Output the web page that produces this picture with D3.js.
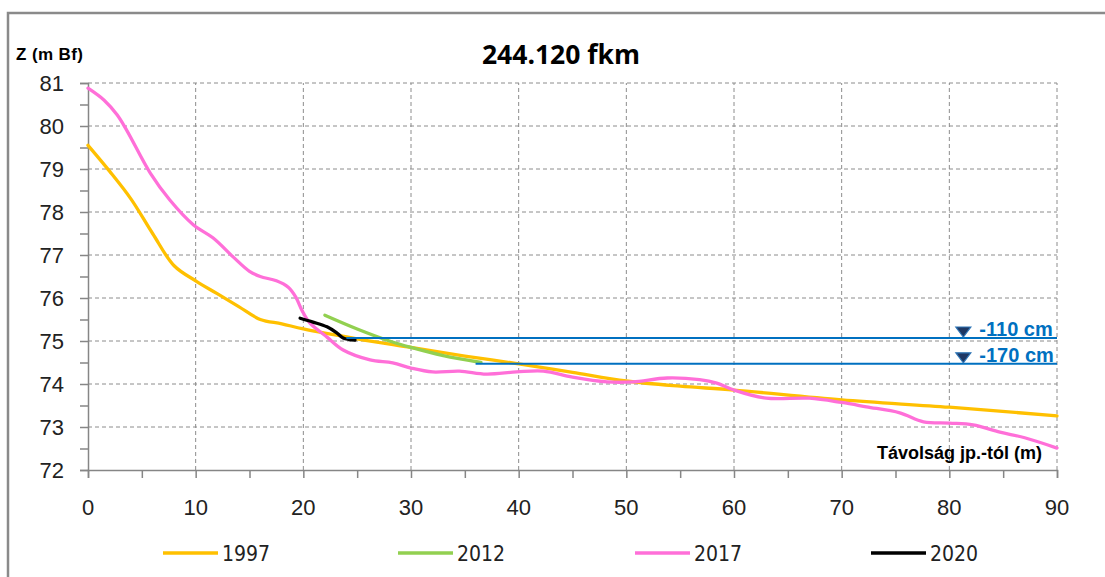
<!DOCTYPE html>
<html>
<head>
<meta charset="utf-8">
<script src="https://cdn.jsdelivr.net/npm/d3@7"></script>
<style>
  html, body { margin: 0; padding: 0; background: #fff; }
  svg { display: block; }
</style>
</head>
<body>
<svg id="chart" width="1105" height="577"></svg>
<script>
// Cross-section profile data: distance from the left bank point (m) vs. elevation (m Bf)
const dist1997 = [0, 2, 4, 6, 8, 10, 12, 14, 16, 18, 20, 25, 30, 35, 40, 45, 50, 55, 60, 70, 80, 90];
const z1997 = [79.55, 78.95, 78.3, 77.5, 76.75, 76.4, 76.1, 75.8, 75.5, 75.4, 75.28, 75.05, 74.85, 74.65, 74.47, 74.27, 74.07, 73.95, 73.86, 73.63, 73.46, 73.26];

const dist2012 = [22, 25, 28, 30, 33, 36.5];
const z2012 = [75.6, 75.28, 75.0, 74.85, 74.66, 74.5];

const dist2017 = [0, 1.5, 2.7, 3.6, 5.8, 7.6, 9.8, 11.6, 13.5, 15, 16, 17.5, 18.6, 19.3, 19.9, 20.6, 22.2, 23.7, 26.2, 28.3, 30, 32, 34.5, 37, 39.8, 42.3, 45, 48.2, 50.6, 53.8, 56.8, 58.4, 60, 63, 67, 70, 72.3, 75.4, 77.6, 80, 82.2, 84.7, 87, 90];
const z2017 = [80.88, 80.6, 80.26, 79.9, 78.9, 78.28, 77.7, 77.4, 76.95, 76.62, 76.5, 76.4, 76.25, 76.02, 75.7, 75.42, 75.09, 74.79, 74.56, 74.49, 74.37, 74.28, 74.3, 74.23, 74.28, 74.3, 74.16, 74.05, 74.05, 74.14, 74.1, 74.02, 73.86, 73.67, 73.67, 73.57, 73.47, 73.33, 73.12, 73.09, 73.05, 72.88, 72.75, 72.51];

const dist2020 = [19.7, 20.9, 22.2, 23.1, 23.7, 24.8];
const z2020 = [75.53, 75.44, 75.33, 75.19, 75.07, 75.02];

// Water levels below reference (horizontal lines)
const levelLabels = ["-110 cm", "-170 cm"];
const levelZ = [75.07, 74.47];
const levelStart = [24, 36];
const levelMarkerX = 81.3;

const seriesNames = ["1997", "2012", "2017", "2020"];
const seriesColors = ["#FFC000", "#92D050", "#FF6FD8", "#000000"];

const xTicks = [0, 10, 20, 30, 40, 50, 60, 70, 80, 90];
const yTicks = [72, 73, 74, 75, 76, 77, 78, 79, 80, 81];

const titleText = "244.120 fkm";
const yTitle = "Z (m Bf)";
const xTitle = "Távolság jp.-tól (m)";

const svg = d3.select("#chart");
const x = d3.scaleLinear().domain([0, 90]).range([88, 1057]);
const y = d3.scaleLinear().domain([72, 81]).range([470, 83]);

const tickFont = "'Liberation Sans', Arial, sans-serif";
const gridColor = "#8c8c8c";

// outer frame
svg.append("rect")
  .attr("x", 8).attr("y", 13).attr("width", 1120).attr("height", 600)
  .attr("fill", "none").attr("stroke", "#8a8a8a").attr("stroke-width", 2.5);

// gridlines
const grid = svg.append("g");
grid.selectAll(".hg").data(yTicks.filter(d => d > 72)).join("line")
  .attr("x1", x(0)).attr("x2", x(90))
  .attr("y1", d => y(d)).attr("y2", d => y(d))
  .attr("stroke", gridColor).attr("stroke-width", 1).attr("stroke-dasharray", "4,3");
grid.selectAll(".vg").data(xTicks.filter(d => d > 0)).join("line")
  .attr("x1", d => x(d)).attr("x2", d => x(d))
  .attr("y1", y(72)).attr("y2", y(81))
  .attr("stroke", gridColor).attr("stroke-width", 1).attr("stroke-dasharray", "4,3");

// axes
const yAxis = d3.axisLeft(y).tickValues(d3.range(72, 81.01, 0.5)).tickSize(8).tickFormat("");
const gy = svg.append("g").attr("transform", `translate(${x(0)},0)`).call(yAxis);
const xAxis = d3.axisBottom(x).tickValues(d3.range(0, 90.01, 5)).tickSize(8).tickFormat("");
const gx = svg.append("g").attr("transform", `translate(0,${y(72)})`).call(xAxis);
[gy, gx].forEach(g => {
  g.selectAll("path, line").attr("stroke", "#868686").attr("stroke-width", 1.5);
});

// tick labels
svg.append("g").selectAll("text").data(yTicks).join("text")
  .attr("x", 64).attr("y", d => y(d) + 8)
  .attr("text-anchor", "end")
  .attr("font-family", tickFont).attr("font-size", 22).attr("fill", "#222")
  .text(d => d);
svg.append("g").selectAll("text").data(xTicks).join("text")
  .attr("x", d => x(d)).attr("y", 515)
  .attr("text-anchor", "middle")
  .attr("font-family", tickFont).attr("font-size", 22).attr("fill", "#222")
  .text(d => d);

// titles
svg.append("text").attr("x", 561).attr("y", 64).attr("text-anchor", "middle")
  .attr("font-family", "'Open Sans', 'Liberation Sans', sans-serif").attr("font-weight", "bold")
  .attr("font-size", 26.5).attr("fill", "#000").text(titleText);
svg.append("text").attr("x", 16).attr("y", 60)
  .attr("font-family", tickFont).attr("font-weight", "bold")
  .attr("font-size", 17).attr("letter-spacing", 0.4).attr("fill", "#000").text(yTitle);
svg.append("text").attr("x", 1042).attr("y", 459).attr("text-anchor", "end")
  .attr("font-family", tickFont).attr("font-weight", "bold")
  .attr("font-size", 18).attr("fill", "#000").text(xTitle);

// series lines
const line = d3.line().x(d => x(d[0])).y(d => y(d[1])).curve(d3.curveCatmullRom.alpha(0.5));
const series = [
  d3.zip(dist1997, z1997),
  d3.zip(dist2012, z2012),
  d3.zip(dist2017, z2017),
  d3.zip(dist2020, z2020)
];
series.forEach((pts, i) => {
  svg.append("path").datum(pts)
    .attr("d", line)
    .attr("fill", "none")
    .attr("stroke", seriesColors[i])
    .attr("stroke-width", 3.3)
    .attr("stroke-linejoin", "round").attr("stroke-linecap", "round");
});

// water level lines, markers and labels
levelZ.forEach((z, i) => {
  svg.append("line")
    .attr("x1", x(levelStart[i])).attr("x2", x(90))
    .attr("y1", y(z)).attr("y2", y(z))
    .attr("stroke", "#0070C0").attr("stroke-width", 2);
  const mx = x(levelMarkerX), my = y(z) - 1;
  svg.append("path")
    .attr("d", `M${mx - 7.5},${my - 10} L${mx + 7.5},${my - 10} L${mx},${my} Z`)
    .attr("fill", "#1F3864").attr("stroke", "#2E75B6").attr("stroke-width", 1.2);
  svg.append("text")
    .attr("x", mx + 16).attr("y", y(z) - 2)
    .attr("font-family", tickFont).attr("font-size", 20).attr("font-weight", "bold")
    .attr("fill", "#0070C0").text(levelLabels[i]);
});

// legend
const legendX = [163, 398, 635, 871];
const legend = svg.append("g");
seriesNames.forEach((name, i) => {
  legend.append("line")
    .attr("x1", legendX[i]).attr("x2", legendX[i] + 55)
    .attr("y1", 553).attr("y2", 553)
    .attr("stroke", seriesColors[i]).attr("stroke-width", 3.5);
  legend.append("text")
    .attr("x", legendX[i] + 59).attr("y", 561)
    .attr("font-family", "'Liberation Sans Narrow', 'DejaVu Sans Condensed', sans-serif")
    .attr("font-size", 21).attr("fill", "#222")
    .text(name);
});
</script>
</body>
</html>
